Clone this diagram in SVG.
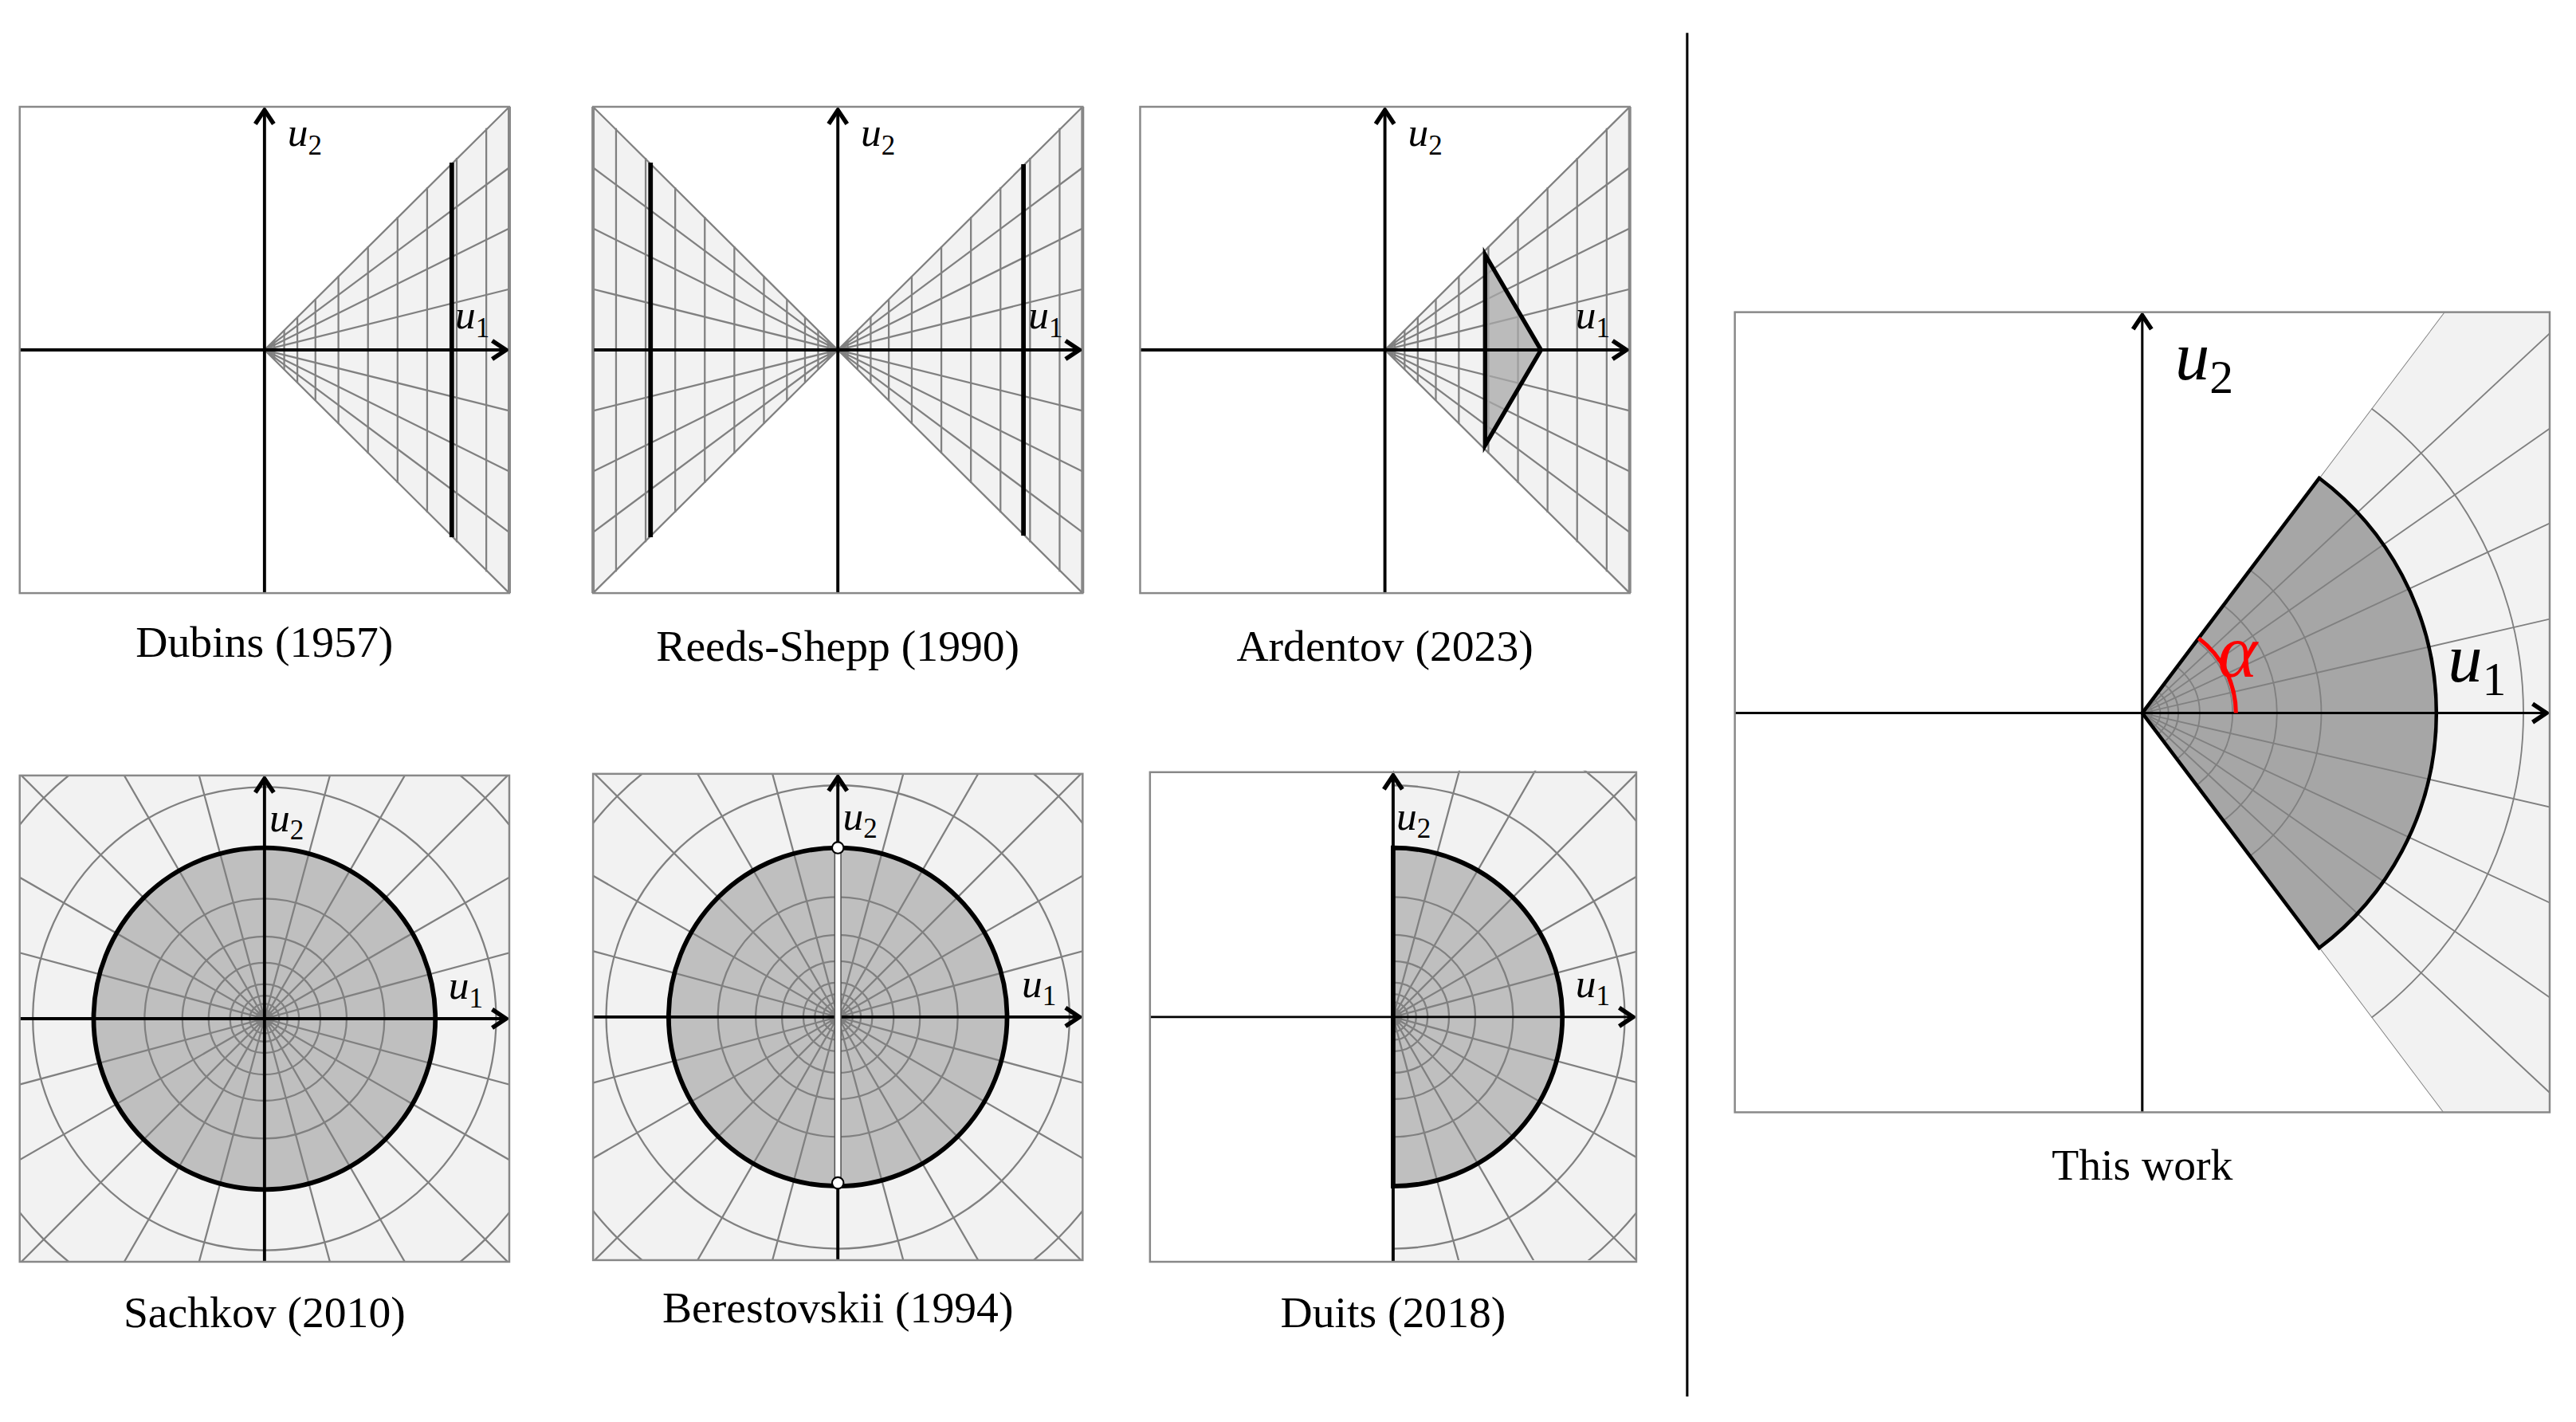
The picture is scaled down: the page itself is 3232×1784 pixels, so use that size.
<svg xmlns="http://www.w3.org/2000/svg" xmlns:xlink="http://www.w3.org/1999/xlink" width="3232" height="1784" viewBox="0 0 3232 1784">
<style>
.bg{fill:#f2f2f2}
.box{fill:none;stroke:#888;stroke-width:1.2}
.g{stroke:#808080;stroke-width:1.1;fill:none}
.ax{stroke:#000;stroke-width:1.9;fill:none}
.thick{stroke:#000;stroke-width:2.8;fill:none}
.lbl{font-family:"Liberation Serif",serif;font-size:27px;text-anchor:middle}
.al{font-family:"Liberation Serif",serif;font-style:italic;font-size:25px}
.sub{font-style:normal;font-size:17px}
.bl{font-size:42px}
.bs{font-size:29px}
</style>
<defs>
<marker id="ar" markerUnits="userSpaceOnUse" markerWidth="14" markerHeight="14" refX="7" refY="5" orient="auto" viewBox="-1 0 10 10"><path d="M1,1 L7,5 L1,9" fill="none" stroke="#000" stroke-width="1.9"/></marker>
<g id="cone">
<polygon points="0,0 149,-148 149,148" class="bg"/>
<g class="g">
<path d="M0,0L149,-148M0,0L149,-111M0,0L149,-74M0,0L149,-37M0,0L149,0M0,0L149,37M0,0L149,74M0,0L149,111M0,0L149,148"/>
<path d="M6,-6V6M12,-12V12M20,-20V20M31,-31V31M45,-45V45M63,-63V63M81,-81V81M99,-99V99M117,-117V117M135,-135V135"/>
<path d="M149,-148V148" stroke-width="1.9"/>
</g>
</g>
<g id="polar" class="g">
<path d="M-300,0H300M0,-300V300M-290,-78L290,78M-290,78L290,-78M-260,-150L260,150M-260,150L260,-150M-212,-212L212,212M-212,212L212,-212M-150,-260L150,260M-150,260L150,-260M-78,-290L78,290M-78,290L78,-290"/>
<circle r="5"/><circle r="9"/><circle r="14"/><circle r="21"/><circle r="34"/><circle r="50"/><circle r="73"/><circle r="141"/><circle r="190"/>
</g>
<clipPath id="cb"><rect x="-149" y="-148" width="298" height="296"/></clipPath>
<clipPath id="cr"><rect x="0" y="-150" width="148" height="298"/></clipPath>
<clipPath id="cw"><rect x="-248" y="-244" width="496" height="487"/></clipPath>
<clipPath id="cc"><polygon points="0,0 241,-320 400,-320 400,320 241,320"/></clipPath>
</defs>
<g transform="scale(2.0612)">
<line x1="1027" y1="20" x2="1027" y2="850" stroke="#000" stroke-width="1.5"/>

<g id="dubins" transform="translate(161,213)">
<rect x="-149" y="-148" width="298" height="296" fill="#fff"/>
<use xlink:href="#cone"/>
<line class="ax" x1="-149" y1="0" x2="147" y2="0" marker-end="url(#ar)"/>
<line class="ax" x1="0" y1="148" x2="0" y2="-146" marker-end="url(#ar)"/>
<line class="thick" x1="114" y1="-114" x2="114" y2="114"/>
<rect class="box" x="-149" y="-148" width="298" height="296"/>
<text class="al" x="14" y="-124">u<tspan class="sub" dy="5">2</tspan></text>
<text class="al" x="116" y="-13">u<tspan class="sub" dy="5">1</tspan></text>
<text class="lbl" x="0" y="187">Dubins (1957)</text>
</g>

<g id="reedsshepp" transform="translate(510,213)">
<rect x="-149" y="-148" width="298" height="296" fill="#fff"/>
<use xlink:href="#cone"/>
<use xlink:href="#cone" transform="scale(-1,1)"/>
<line class="ax" x1="-149" y1="0" x2="147" y2="0" marker-end="url(#ar)"/>
<line class="ax" x1="0" y1="148" x2="0" y2="-146" marker-end="url(#ar)"/>
<line class="thick" x1="113" y1="-113" x2="113" y2="113"/>
<line class="thick" x1="-114" y1="-114" x2="-114" y2="114"/>
<rect class="box" x="-149" y="-148" width="298" height="296"/>
<text class="al" x="14" y="-124">u<tspan class="sub" dy="5">2</tspan></text>
<text class="al" x="116" y="-13">u<tspan class="sub" dy="5">1</tspan></text>
<text class="lbl" x="0" y="189">Reeds-Shepp (1990)</text>
</g>

<g id="ardentov" transform="translate(843,213)">
<rect x="-149" y="-148" width="298" height="296" fill="#fff"/>
<use xlink:href="#cone"/>
<polygon points="61,-58 95,0 61,58" fill="#a8a8a8" fill-opacity="0.75" stroke="#000" stroke-width="2.6"/>
<line class="ax" x1="-149" y1="0" x2="147" y2="0" marker-end="url(#ar)"/>
<line class="ax" x1="0" y1="148" x2="0" y2="-146" marker-end="url(#ar)"/>
<rect class="box" x="-149" y="-148" width="298" height="296"/>
<text class="al" x="14" y="-124">u<tspan class="sub" dy="5">2</tspan></text>
<text class="al" x="116" y="-13">u<tspan class="sub" dy="5">1</tspan></text>
<text class="lbl" x="0" y="189">Ardentov (2023)</text>
</g>

<g id="sachkov" transform="translate(161,620)">
<rect class="bg" x="-149" y="-148" width="298" height="296"/>
<circle r="104" fill="#bfbfbf"/>
<g clip-path="url(#cb)"><use xlink:href="#polar"/></g>
<line class="ax" x1="-149" y1="0" x2="147" y2="0" marker-end="url(#ar)"/>
<line class="ax" x1="0" y1="148" x2="0" y2="-146" marker-end="url(#ar)"/>
<circle r="104" class="thick"/>
<rect class="box" x="-149" y="-148" width="298" height="296" stroke-width="1.8"/>
<text class="al" x="3" y="-114">u<tspan class="sub" dy="5">2</tspan></text>
<text class="al" x="112" y="-12">u<tspan class="sub" dy="5">1</tspan></text>
<text class="lbl" x="0" y="188">Sachkov (2010)</text>
</g>

<g id="berestovskii" transform="translate(510,619)">
<rect class="bg" x="-149" y="-148" width="298" height="296"/>
<circle r="103" fill="#bfbfbf"/>
<g clip-path="url(#cb)"><use xlink:href="#polar"/></g>
<line class="ax" x1="-149" y1="0" x2="147" y2="0" marker-end="url(#ar)"/>
<line class="ax" x1="0" y1="148" x2="0" y2="-146" marker-end="url(#ar)"/>
<line x1="0" y1="-102" x2="0" y2="102" stroke="#555" stroke-width="4.5"/>
<line x1="0" y1="-102" x2="0" y2="102" stroke="#fff" stroke-width="3"/>
<circle r="103" class="thick"/>
<circle cx="0" cy="-103" r="3.5" fill="#fff" stroke="#000" stroke-width="1"/>
<circle cx="0" cy="101" r="3.5" fill="#fff" stroke="#000" stroke-width="1"/>
<rect class="box" x="-149" y="-148" width="298" height="296" stroke-width="1.8"/>
<text class="al" x="3" y="-114">u<tspan class="sub" dy="5">2</tspan></text>
<text class="al" x="112" y="-12">u<tspan class="sub" dy="5">1</tspan></text>
<text class="lbl" x="0" y="186">Berestovskii (1994)</text>
</g>

<g id="duits" transform="translate(848,619)">
<rect x="-148" y="-149" width="296" height="298" fill="#fff"/>
<rect class="bg" x="0" y="-149" width="148" height="298"/>
<path d="M0,-103A103,103 0 0 1 0,103Z" fill="#bfbfbf"/>
<g clip-path="url(#cr)"><use xlink:href="#polar"/></g>
<line x1="-148" y1="0" x2="146" y2="0" stroke="#000" stroke-width="1.3" marker-end="url(#ar)"/>
<line class="ax" x1="0" y1="149" x2="0" y2="-147" marker-end="url(#ar)"/>
<path d="M0,-103A103,103 0 0 1 0,103Z" class="thick"/>
<rect class="box" x="-148" y="-149" width="296" height="298"/>
<text class="al" x="2" y="-114">u<tspan class="sub" dy="5">2</tspan></text>
<text class="al" x="111" y="-12">u<tspan class="sub" dy="5">1</tspan></text>
<text class="lbl" x="0" y="189">Duits (2018)</text>
</g>

<g id="thiswork" transform="translate(1304,434)">
<rect x="-248" y="-244" width="496" height="487" fill="#fff"/>
<g clip-path="url(#cw)"><g clip-path="url(#cc)">
<rect class="bg" x="0" y="-244" width="248" height="487"/>
<path d="M0,0L107.7,-143A179,179 0 0 1 107.7,143Z" fill="#a6a6a6"/>
<g class="g" style="stroke-width:0.9">
<path d="M0,0L400,0M0,0L390,-90M0,0L390,90M0,0L363,-169M0,0L363,169M0,0L328,-229M0,0L328,229M0,0L293,-273M0,0L293,273M0,0L241,-320M0,0L241,320"/>
<circle r="6"/><circle r="11"/><circle r="16"/><circle r="22"/><circle r="35"/><circle r="55"/><circle r="82"/><circle r="109"/><circle r="232"/>
</g>
</g></g>
<line class="ax" x1="-248" y1="0" x2="246" y2="0" style="stroke-width:1.5" marker-end="url(#ar)"/>
<line class="ax" x1="0" y1="243" x2="0" y2="-242" style="stroke-width:1.5" marker-end="url(#ar)"/>
<path d="M0,0L107.7,-143A179,179 0 0 1 107.7,143Z" fill="none" stroke="#000" stroke-width="2.2"/>
<path d="M57,0A57,57 0 0 0 34.3,-45.5" fill="none" stroke="#f00" stroke-width="2.5"/>
<rect class="box" x="-248" y="-244" width="496" height="487" stroke-width="1.8"/>
<text x="46" y="-22" style="font-family:'Liberation Serif',serif;font-style:italic;font-size:46px" fill="#f00">α</text>
<text class="al bl" x="20" y="-203">u<tspan class="sub bs" dy="8">2</tspan></text>
<text class="al bl" x="186" y="-19">u<tspan class="sub bs" dy="8">1</tspan></text>
<text class="lbl" x="0" y="284">This work</text>
</g>
</g>
</svg>
